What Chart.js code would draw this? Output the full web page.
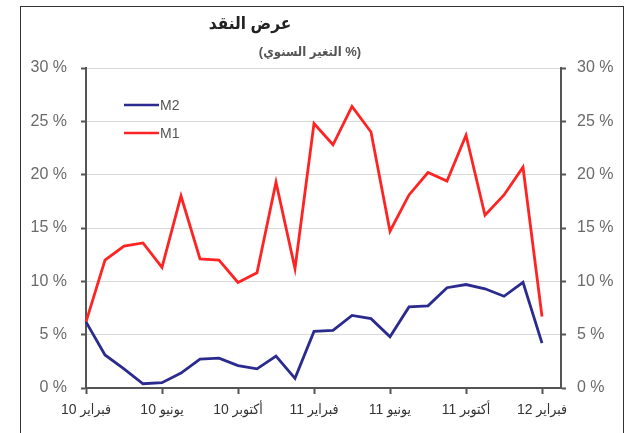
<!DOCTYPE html>
<html>
<head>
<meta charset="utf-8">
<script src="https://cdn.jsdelivr.net/npm/chart.js@4"></script>
<style>
  html, body { margin: 0; padding: 0; background: #fff; overflow: hidden; }
  #wrap { position: relative; width: 625px; height: 433px; }
  #frame { position: absolute; left: 20px; top: 6px; width: 604px; height: 500px;
           border: 1.5px solid #333; box-sizing: border-box; }
  canvas { position: absolute; left: 0; top: 0; }
</style>
</head>
<body>
<div id="wrap">
  <div id="frame"></div>
  <canvas id="chart" width="625" height="433"></canvas>
</div>
<script>
// monthly, Feb 2010 .. Feb 2012
const months = [
    'فبراير 10', 'مارس 10', 'أبريل 10', 'مايو 10', 'يونيو 10', 'يوليو 10', 'أغسطس 10',
    'سبتمبر 10', 'أكتوبر 10', 'نوفمبر 10', 'ديسمبر 10', 'يناير 11', 'فبراير 11',
    'مارس 11', 'أبريل 11', 'مايو 11', 'يونيو 11', 'يوليو 11', 'أغسطس 11', 'سبتمبر 11',
    'أكتوبر 11', 'نوفمبر 11', 'ديسمبر 11', 'يناير 12', 'فبراير 12'
];

const m2 = [6.2, 3.1, 1.8, 0.4, 0.5, 1.4, 2.7, 2.8, 2.1, 1.8, 3.0, 0.9, 5.3,
            5.4, 6.8, 6.5, 4.8, 7.6, 7.7, 9.4, 9.7, 9.3, 8.6, 9.9, 4.2];
const m1 = [6.2, 12.0, 13.3, 13.6, 11.3, 18.0, 12.1, 12.0, 9.9, 10.8, 19.3, 11.2, 24.8,
            22.8, 26.4, 24.0, 14.7, 18.1, 20.2, 19.4, 23.7, 16.2, 18.1, 20.7, 6.7];

const yTicks = [0, 5, 10, 15, 20, 25, 30];

const titleText = 'عرض النقد';
const subtitleText = '(التغير السنوي %)';

const font = "'Liberation Sans', Arial, 'DejaVu Sans Condensed', 'DejaVu Sans', sans-serif";
const axisGrey = '#555';

// title, subtitle and the in-plot legend
const decor = {
    id: 'decor',
    afterDraw(chart) {
        const ctx = chart.ctx;
        const a = chart.chartArea;
        ctx.save();
        ctx.direction = 'ltr';
        ctx.textAlign = 'center';
        ctx.textBaseline = 'middle';
        ctx.fillStyle = '#222';
        ctx.font = 'bold 17px ' + font;
        ctx.fillText(titleText, a.left + 164, 24);
        ctx.fillStyle = '#555';
        ctx.font = 'bold 13px ' + font;
        ctx.fillText(subtitleText, a.left + 224, 52);

        ctx.textAlign = 'left';
        ctx.font = '14px ' + font;
        chart.data.datasets.forEach((ds, i) => {
            const y = a.top + 37 + i * 28;
            ctx.strokeStyle = ds.borderColor;
            ctx.lineWidth = 2.5;
            ctx.beginPath();
            ctx.moveTo(a.left + 38, y);
            ctx.lineTo(a.left + 73, y);
            ctx.stroke();
            ctx.fillStyle = '#555';
            ctx.fillText(ds.label, a.left + 74, y + 1);
        });
        ctx.restore();
    }
};

const chart = document.getElementById('chart');

new Chart(chart, {
    type: 'line',
    data: {
        labels: months.concat(['']),
        datasets: [{
            label: 'M2',
            data: m2,
            borderColor: '#2b2b8f',
            borderWidth: 2.8,
            pointRadius: 0,
            tension: 0
        }, {
            label: 'M1',
            data: m1,
            borderColor: '#ff2424',
            borderWidth: 2.8,
            pointRadius: 0,
            tension: 0
        }]
    },
    options: {
        responsive: false,
        animation: false,
        layout: {
            padding: { left: 20, right: 4, top: 68, bottom: 0 }
        },
        plugins: {
            legend: { display: false },
            tooltip: { enabled: false },
            title: { display: false }
        },
        scales: {
            x: {
                offset: false,
                afterFit(scale) { scale.height = 45; },
                border: { color: axisGrey, width: 2 },
                grid: {
                    drawOnChartArea: false,
                    drawTicks: true,
                    tickLength: 6,
                    tickWidth: 2,
                    tickColor: (c) => (c.index % 4 === 0 && c.index < months.length) ? axisGrey : 'rgba(0,0,0,0)'
                },
                ticks: {
                    autoSkip: false,
                    maxRotation: 0,
                    padding: 8,
                    color: '#333',
                    font: { family: font, size: 14 },
                    callback: function (v, i) {
                        return (i % 4 === 0 && i < months.length) ? months[i] : '';
                    }
                }
            },
            y: {
                position: 'left',
                min: 0,
                max: 30,
                afterFit(scale) { scale.width = 66; },
                afterBuildTicks(scale) { scale.ticks = yTicks.map(v => ({ value: v })); },
                border: { color: axisGrey, width: 2 },
                grid: {
                    color: '#d8d8d8',
                    lineWidth: 1,
                    tickLength: 5,
                    tickColor: axisGrey,
                    tickWidth: 2
                },
                ticks: {
                    padding: 14,
                    color: '#6a6a6a',
                    font: { family: font, size: 16 },
                    callback: v => v + ' %'
                }
            },
            y2: {
                position: 'right',
                min: 0,
                max: 30,
                afterFit(scale) { scale.width = 60; },
                afterBuildTicks(scale) { scale.ticks = yTicks.map(v => ({ value: v })); },
                border: { color: axisGrey, width: 2 },
                grid: {
                    drawOnChartArea: false,
                    tickLength: 5,
                    tickColor: axisGrey,
                    tickWidth: 2
                },
                ticks: {
                    padding: 11,
                    color: '#6a6a6a',
                    font: { family: font, size: 16 },
                    callback: v => v + ' %'
                }
            }
        }
    },
    plugins: [decor]
});
</script>
</body>
</html>
